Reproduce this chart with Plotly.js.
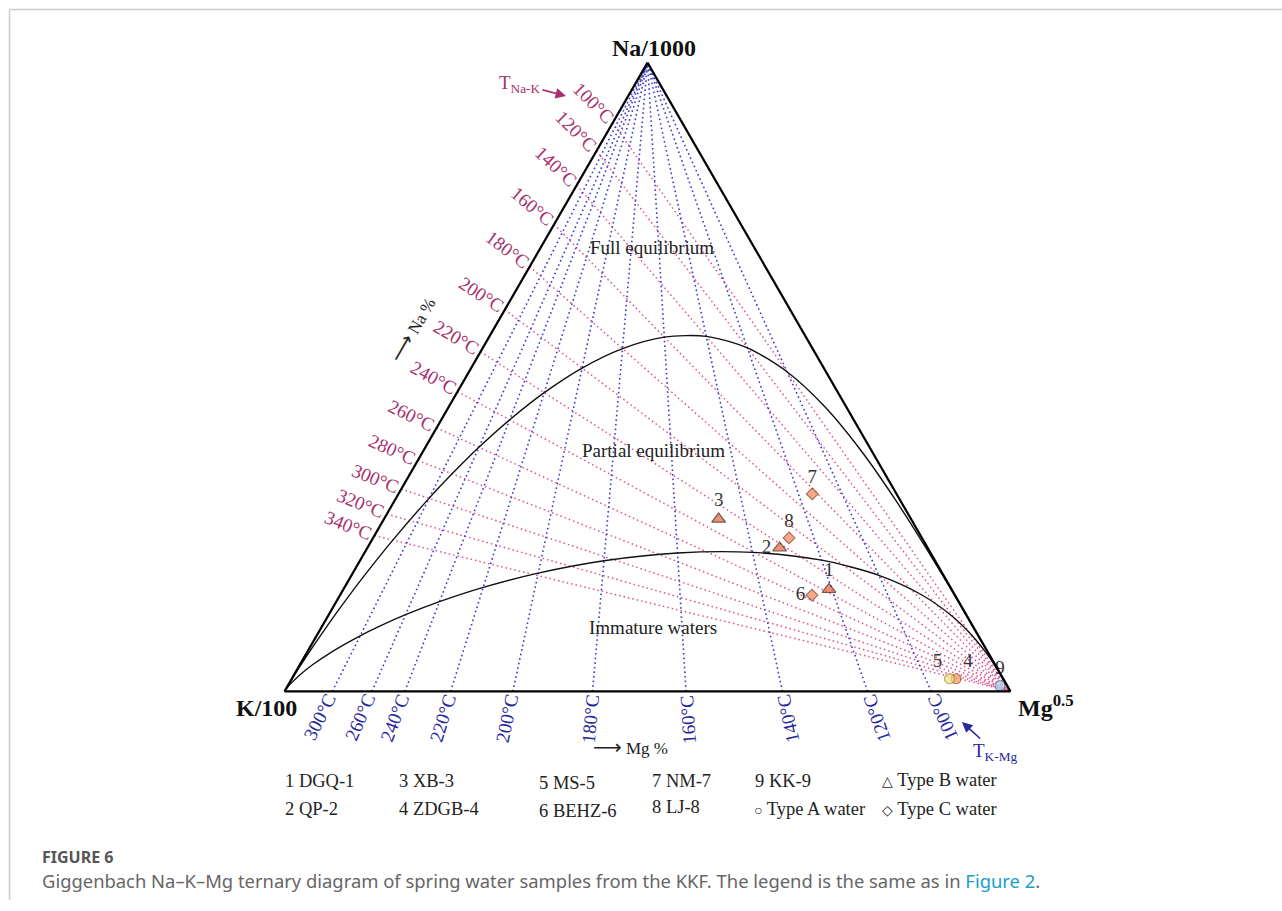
<!DOCTYPE html>
<html>
<head>
<meta charset="utf-8">
<script src="https://cdn.plot.ly/plotly-3.0.1.min.js"></script>
<style>
html,body{margin:0;padding:0;background:#ffffff;}
#chart{width:1282px;height:911px;}
</style>
</head>
<body>
<div id="chart"></div>
<script>
// ---------------- DATA ----------------
// Spring water samples (ternary fractions)
const sampleIds   = ['1','2','3','4','5','6','7','8','9'];
const sampleNames = ['DGQ-1','QP-2','XB-3','ZDGB-4','MS-5','BEHZ-6','NM-7','LJ-8','KK-9'];
const waterType   = ['B','B','B','A','A','C','C','C','A'];
const naFrac = [0.162, 0.228, 0.274, 0.020, 0.020, 0.153, 0.314, 0.244, 0.009];
const kFrac  = [0.169, 0.204, 0.265, 0.065, 0.074, 0.197, 0.116, 0.183, 0.010];
const mgFrac = [0.669, 0.568, 0.461, 0.915, 0.906, 0.650, 0.570, 0.573, 0.981];

// Na-K isotherms: temperature and Na fraction where they meet the Na-K side
const naKTemps  = [100,120,140,160,180,200,220,240,260,280,300,320,340];
const naKEdgeNa = [0.9045,0.8596,0.8050,0.7427,0.6755,0.6069,0.5400,0.4768,0.4190,0.3672,0.3216,0.2819,0.2477];
const naKLabelAngle = [45,45,43,40,37,33,31,29,26,24,22,22,22];

// K-Mg isotherms: temperature and Mg fraction where they meet the K-Mg side
const kMgTemps  = [300,260,240,220,200,180,160,140,120,100];
const kMgEdgeMg = [0.0659,0.1205,0.1658,0.2289,0.3146,0.4243,0.5530,0.6858,0.8031,0.8908];

// Full equilibrium curve (from K/100 corner to Mg corner)
const fullNa = [0, 0.0215,0.0455,0.0648,0.0998,0.1283,0.169,0.2008,0.2406,0.3069,0.3459,0.3881,0.4319,0.4751,0.5142,0.5451,0.5633,0.5646,0.5464,0.5083,0.4526,0.3827,0.305,0.2267,0.155,0];
const fullK  = [1, 0.978,0.9528,0.932,0.894,0.8621,0.816,0.7783,0.7306,0.6474,0.5962,0.5382,0.4739,0.4047,0.3330,0.2618,0.1952,0.1368,0.0893,0.0537,0.0294,0.0144,0.0062,0.0023,0.0007,0];
const fullMg = [0, 0.0005,0.0018,0.0031,0.0064,0.00966,0.0154,0.0209,0.0289,0.0456,0.0579,0.0737,0.0942,0.1202,0.1528,0.1931,0.2415,0.2986,0.3643,0.438,0.518,0.6029,0.689,0.771,0.844,1];

// Immature waters boundary (from K/100 corner to Mg corner)
const immNa = [0, 0.0103,0.0237,0.0426,0.0648,0.0883,0.1037,0.1219,0.1426,0.1653,0.1880,0.2077,0.2201,0.2210,0.2086,0.1845,0.1532,0.1194,0.0877,0.0603,0.0387,0];
const immK  = [1, 0.9879,0.9694,0.9397,0.8996,0.8516,0.8170,0.7723,0.7153,0.6436,0.5566,0.4560,0.3486,0.2447,0.1558,0.0890,0.0454,0.0206,0.0082,0.0028,0.0008,0];
const immMg = [0, 0.0018,0.0069,0.0178,0.0356,0.0600,0.0793,0.1058,0.1421,0.1911,0.2554,0.3362,0.4313,0.5343,0.6356,0.7266,0.8014,0.8600,0.9042,0.9370,0.9605,1];

// Legend entries (text only, as in the figure)
const legendRow1 = ['1 DGQ-1','3 XB-3','5 MS-5','7 NM-7','9 KK-9'];
const legendRow2 = ['2 QP-2','4 ZDGB-4','6 BEHZ-6','8 LJ-8'];

// ---------------- LAYOUT GEOMETRY ----------------
const W = 1282, H = 911;
const domX = [0.05, 0.96014];
const domY = [0.241125, 0.931279];
const triH = (domY[1]-domY[0])*H;
const triW = triH*2/Math.sqrt(3);
const cx = (domX[0]+domX[1])/2*W;
const cy = (1-(domY[0]+domY[1])/2)*H;
const apex = [cx, cy - triH/2];
const kV   = [cx - triW/2, cy + triH/2];
const mgV  = [cx + triW/2, cy + triH/2];
function px(a,b,c){const s=a+b+c;return [(a*apex[0]+b*kV[0]+c*mgV[0])/s,(a*apex[1]+b*kV[1]+c*mgV[1])/s];}
const PX = x => x/W;
const PY = y => 1 - y/H;

const SERIF = 'Liberation Serif, Times New Roman, serif';
const PINK_LINE = '#e0508f', PINK_TXT = '#a8306e';
const BLUE_LINE = '#3a3acc', BLUE_TXT = '#28289a';
const ARROW = '<span style="font-family:DejaVu Sans;font-size:20px">⟶</span>';

// ---------------- TRACES ----------------
const traces = [];

// Na-K isotherms
{
  const a=[],b=[],c=[];
  naKEdgeNa.forEach(v=>{a.push(v,0,null);b.push(1-v,0,null);c.push(0,1,null);});
  traces.push({type:'scatterternary',mode:'lines',a:a,b:b,c:c,hoverinfo:'skip',showlegend:false,
    line:{color:PINK_LINE,width:1.5,dash:'1.5px,3px'}});
}
// K-Mg isotherms
{
  const a=[],b=[],c=[];
  kMgEdgeMg.forEach(v=>{a.push(0,1,null);b.push(1-v,0,null);c.push(v,0,null);});
  traces.push({type:'scatterternary',mode:'lines',a:a,b:b,c:c,hoverinfo:'skip',showlegend:false,
    line:{color:BLUE_LINE,width:1.6,dash:'1.6px,3px'}});
}
// Full equilibrium and immature curves
traces.push({type:'scatterternary',mode:'lines',a:fullNa,b:fullK,c:fullMg,hoverinfo:'skip',showlegend:false,
  line:{color:'#111',width:1.4,shape:'spline',smoothing:0.8}});
traces.push({type:'scatterternary',mode:'lines',a:immNa,b:immK,c:immMg,hoverinfo:'skip',showlegend:false,
  line:{color:'#111',width:1.4,shape:'spline',smoothing:0.8}});

// Samples
const symbolOf = {A:'circle',B:'triangle-up',C:'diamond'};
const sizeOf = {A:10,B:12,C:9};
const fillCols = ['#e8623a','#e8623a','#e8623a','#f39a5e','#f2df7c','#f0875a','#f0875a','#f0875a','#a5d8ea'];
const edgeCols = ['#3a1208','#3a1208','#3a1208','#a04a20','#9a8a40','#8a2a14','#8a2a14','#8a2a14','#4a8aa0'];
const txtPos = ['top center','middle left','top center','top right','top left','middle left','top center','top center','top center'];
traces.push({type:'scatterternary',mode:'markers+text',a:naFrac,b:kFrac,c:mgFrac,cliponaxis:false,
  text:sampleIds,textposition:txtPos,
  textfont:{family:SERIF,size:19,color:'#333'},
  customdata:sampleNames,hovertemplate:'%{customdata}<extra></extra>',showlegend:false,
  marker:{symbol:waterType.map(t=>symbolOf[t]),size:waterType.map(t=>sizeOf[t]),
    color:fillCols,line:{color:edgeCols,width:1.2}}});

// ---------------- ANNOTATIONS ----------------
const ann = [];
function txt(x,y,text,o){ann.push(Object.assign({xref:'paper',yref:'paper',x:PX(x),y:PY(y),text:text,showarrow:false,
  xanchor:'center',yanchor:'middle',font:{family:SERIF,size:17,color:'#222'}},o||{}));}

// Vertex labels
txt(apex[0]+7, apex[1]-15, '<b>Na/1000</b>', {font:{family:SERIF,size:24,color:'#111'}});
txt(kV[0]+14, kV[1]+17, '<b>K/100</b>', {xanchor:'right',font:{family:SERIF,size:24,color:'#111'}});
txt(mgV[0]+6, mgV[1]+15, '<b>Mg<sup>0.5</sup></b>', {xanchor:'left',font:{family:SERIF,size:24,color:'#111'}});

// Region labels
txt(652, 247, 'Full equilibrium', {font:{family:SERIF,size:19,color:'#222'}});
txt(653, 450, 'Partial equilibrium', {font:{family:SERIF,size:19,color:'#222'}});
txt(653, 627, 'Immature waters', {font:{family:SERIF,size:19,color:'#222'}});

// Na-K isotherm labels
naKTemps.forEach((t,i)=>{
  const P = px(naKEdgeNa[i],1-naKEdgeNa[i],0);
  const th = naKLabelAngle[i]*Math.PI/180;
  const d = 28;
  txt(P[0]-d*Math.cos(th), P[1]-d*Math.sin(th), t+'°C', {textangle:naKLabelAngle[i],font:{family:SERIF,size:19,color:PINK_TXT}});
});
// K-Mg isotherm labels
kMgTemps.forEach((t,i)=>{
  const P = px(0,1-kMgEdgeMg[i],kMgEdgeMg[i]);
  const dx = apex[0]-P[0], dy = apex[1]-P[1];
  const L = Math.hypot(dx,dy), ux = dx/L, uy = dy/L;
  const ang = Math.atan2(dy,dx)*180/Math.PI;
  const d = 28;
  txt(P[0]-d*ux, P[1]-d*uy, t+'°C', {textangle:ang,font:{family:SERIF,size:19,color:BLUE_TXT}});
});

// Geothermometer labels with arrows (text sits at the arrow tail)
ann.push({xref:'paper',yref:'paper',x:PX(566),y:PY(96),ax:-46,ay:-12,text:'T<sub>Na-K</sub>',showarrow:true,
  arrowhead:2,arrowsize:1.3,arrowwidth:1.6,arrowcolor:PINK_TXT,standoff:0,
  font:{family:SERIF,size:19,color:PINK_TXT}});
ann.push({xref:'paper',yref:'paper',x:PX(962),y:PY(722),ax:33,ay:30,text:'T<sub>K-Mg</sub>',showarrow:true,
  arrowhead:2,arrowsize:1.3,arrowwidth:1.6,arrowcolor:BLUE_TXT,standoff:0,
  font:{family:SERIF,size:19,color:BLUE_TXT}});

// Axis direction labels
txt(412, 330, ARROW+' Na %', {textangle:-60,font:{family:SERIF,size:17,color:'#222'}});
txt(630, 747, ARROW+' Mg %', {font:{family:SERIF,size:17,color:'#222'}});

// Legend
const LF = {family:SERIF,size:18.5,color:'#222'};
const colX = [283,397,537,650,753];
legendRow1.forEach((s,i)=>txt(colX[i], i===2?783:781, s, {xanchor:'left',font:LF}));
legendRow2.forEach((s,i)=>txt(colX[i], i===2?811:(i===3?807:809), s, {xanchor:'left',font:LF}));
txt(880, 780, '<span style="font-size:14px">△</span> Type B water', {xanchor:'left',font:LF});
txt(752, 809, '<span style="font-size:14px">○</span> Type A water', {xanchor:'left',font:LF});
txt(880, 809, '<span style="font-size:14px">◇</span> Type C water', {xanchor:'left',font:LF});

// Caption
txt(40, 857, '<b>FIGURE 6</b>', {xanchor:'left',font:{family:'Noto Sans, sans-serif',size:16,color:'#555'}});
txt(40, 880, 'Giggenbach Na–K–Mg ternary diagram of spring water samples from the KKF. The legend is the same as in <span style="color:#1a9ec9">Figure 2</span>.',
  {xanchor:'left',font:{family:'Noto Sans, sans-serif',size:18.4,color:'#666'}});

// ---------------- LAYOUT ----------------
const axisStyle = {showticklabels:false,ticks:'',showgrid:false,linecolor:'#000',linewidth:2.2,title:{text:''},min:0};
const layout = {
  width:W,height:H,margin:{l:0,r:0,t:0,b:0},
  paper_bgcolor:'#fff',plot_bgcolor:'#fff',showlegend:false,
  ternary:{domain:{x:domX,y:domY},sum:1,bgcolor:'rgba(0,0,0,0)',
    aaxis:axisStyle,baxis:axisStyle,caxis:axisStyle},
  annotations:ann,
  shapes:[
    {type:'line',xref:'paper',yref:'paper',x0:PX(9.5),x1:1,y0:PY(9.5),y1:PY(9.5),line:{color:'#cccccc',width:1.5}},
    {type:'line',xref:'paper',yref:'paper',x0:PX(9.5),x1:PX(9.5),y0:PY(9.5),y1:PY(900),line:{color:'#cccccc',width:1.5}}
  ]
};
Plotly.newPlot('chart',traces,layout,{displayModeBar:false,staticPlot:true});
</script>
</body>
</html>
